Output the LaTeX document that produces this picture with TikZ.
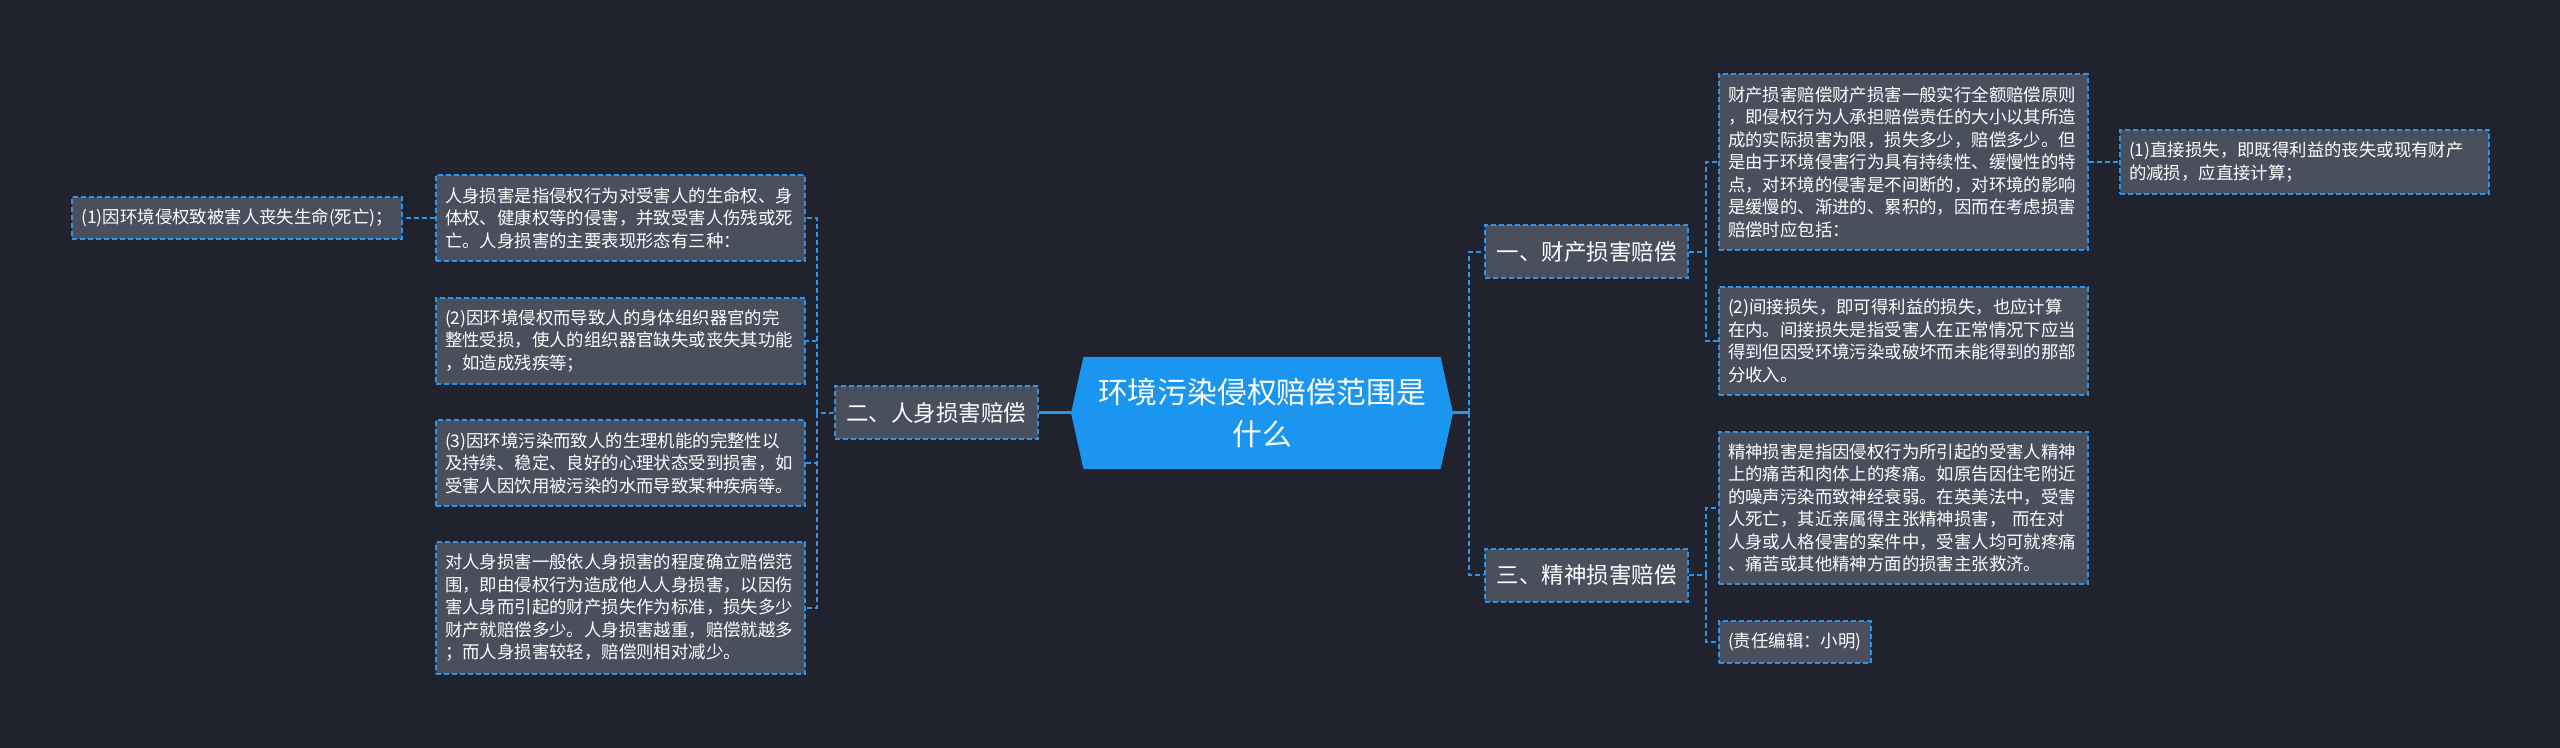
\documentclass[tikz,border=0pt]{standalone}
\usepackage{fontspec}
\setmainfont{Noto Sans CJK SC}
\usepackage{tikz}
\usetikzlibrary{shapes.symbols,positioning}
\definecolor{bgnavy}{HTML}{20232E}
\definecolor{cardgray}{HTML}{4A4F5D}
\definecolor{lineblue}{HTML}{2B95E8}
\definecolor{rootblue}{HTML}{1A96F0}

\begin{document}
\begin{tikzpicture}[x=0.5pt, y=-0.5pt,
  root/.style={signal, signal to=west and east, signal pointer angle=155, fill=rootblue, text=white, align=center, font=\fontsize{14.9}{20.8}\selectfont, minimum width=191pt, minimum height=56pt, inner sep=0pt},
  card/.style={draw=lineblue, line width=1pt, dash pattern=on 2.5pt off 1.5pt, fill=cardgray, text=white},
  branch/.style={card, font=\fontsize{11.25}{14}\selectfont, minimum height=26.5pt, inner xsep=5.75pt},
  leaf/.style={card, text width=175.5pt, align=left, font=\fontsize{8.7}{11.25}\selectfont, inner xsep=4.5pt, inner ysep=6pt},
  tag/.style={card, align=left, font=\fontsize{8.7}{11.25}\selectfont, inner xsep=4.5pt, inner ysep=6pt},
  link/.style={draw=lineblue, line width=1pt, dash pattern=on 2.5pt off 1.5pt},
  trunk/.style={draw=lineblue, line width=1.5pt}]
\fill[bgnavy] (0,0) rectangle (2560,748);
\useasboundingbox (0,0) rectangle (2560,748);
\node[root] (root) at (1262,413) {环境污染侵权赔偿范围是\\什么};
% left: personal injury
\node[branch, left=16pt of root] (b2) {二、人身损害赔偿};
\node[leaf, anchor=east] (p0) at (806,218) {人身损害是指侵权行为对受害人的生命权、身\\体权、健康权等的侵害，并致受害人伤残或死\\亡。人身损害的主要表现形态有三种：};
\node[tag, left=16pt of p0] (p00) {(1)因环境侵权致被害人丧失生命(死亡)；};
\node[leaf, anchor=east] (p1) at (806,341) {(2)因环境侵权而导致人的身体组织器官的完\\整性受损，使人的组织器官缺失或丧失其功能\\，如造成残疾等；};
\node[leaf, anchor=east] (p2) at (806,463) {(3)因环境污染而致人的生理机能的完整性以\\及持续、稳定、良好的心理状态受到损害，如\\受害人因饮用被污染的水而导致某种疾病等。};
\node[leaf, anchor=east] (p3) at (806,608) {对人身损害一般依人身损害的程度确立赔偿范\\围，即由侵权行为造成他人人身损害，以因伤\\害人身而引起的财产损失作为标准，损失多少\\财产就赔偿多少。人身损害越重，赔偿就越多\\；而人身损害较轻，赔偿则相对减少。};
% right: property and mental damage
\node[branch, anchor=west] (b1) at (1484,252) {一、财产损害赔偿};
\node[branch, anchor=west] (b3) at (1484,575) {三、精神损害赔偿};
\node[leaf, anchor=west] (r0) at (1718,162) {财产损害赔偿财产损害一般实行全额赔偿原则\\，即侵权行为人承担赔偿责任的大小以其所造\\成的实际损害为限，损失多少，赔偿多少。但\\是由于环境侵害行为具有持续性、缓慢性的特\\点，对环境的侵害是不间断的，对环境的影响\\是缓慢的、渐进的、累积的，因而在考虑损害\\赔偿时应包括：};
\node[leaf, right=15pt of r0] (r00) {(1)直接损失，即既得利益的丧失或现有财产\\的减损，应直接计算；};
\node[leaf, anchor=west] (r1) at (1718,341) {(2)间接损失，即可得利益的损失，也应计算\\在内。间接损失是指受害人在正常情况下应当\\得到但因受环境污染或破坏而未能得到的那部\\分收入。};
\node[leaf, anchor=west] (r2) at (1718,508) {精神损害是指因侵权行为所引起的受害人精神\\上的痛苦和肉体上的疼痛。如原告因住宅附近\\的噪声污染而致神经衰弱。在英美法中，受害\\人死亡，其近亲属得主张精神损害， 而在对\\人身或人格侵害的案件中，受害人均可就疼痛\\、痛苦或其他精神方面的损害主张救济。};
\node[tag, anchor=west] (r3) at (1718,642) {(责任编辑：小明)};
% connectors
\draw[trunk] (root.west) -- (b2.east);
\draw[trunk] (root.east) -- ++(16,0) coordinate (rj);
\draw[link] (rj) |- (b1.west);
\draw[link] (rj) |- (b3.west);
\draw[link] (b2.west) -- ++(-17,0) coordinate (lj);
\foreach \n in {p0,p1,p2,p3}
  \draw[link] (lj) |- (\n.east);
\draw[link] (p0.west) -- (p00.east);
\draw[link] (b1.east) -- ++(17,0) coordinate (j1);
\draw[link] (j1) |- (r0.west);
\draw[link] (j1) |- (r1.west);
\draw[link] (b3.east) -- ++(17,0) coordinate (j3);
\draw[link] (j3) |- (r2.west);
\draw[link] (j3) |- (r3.west);
\draw[link] (r0.east) -- (r00.west);
\end{tikzpicture}
\end{document}
